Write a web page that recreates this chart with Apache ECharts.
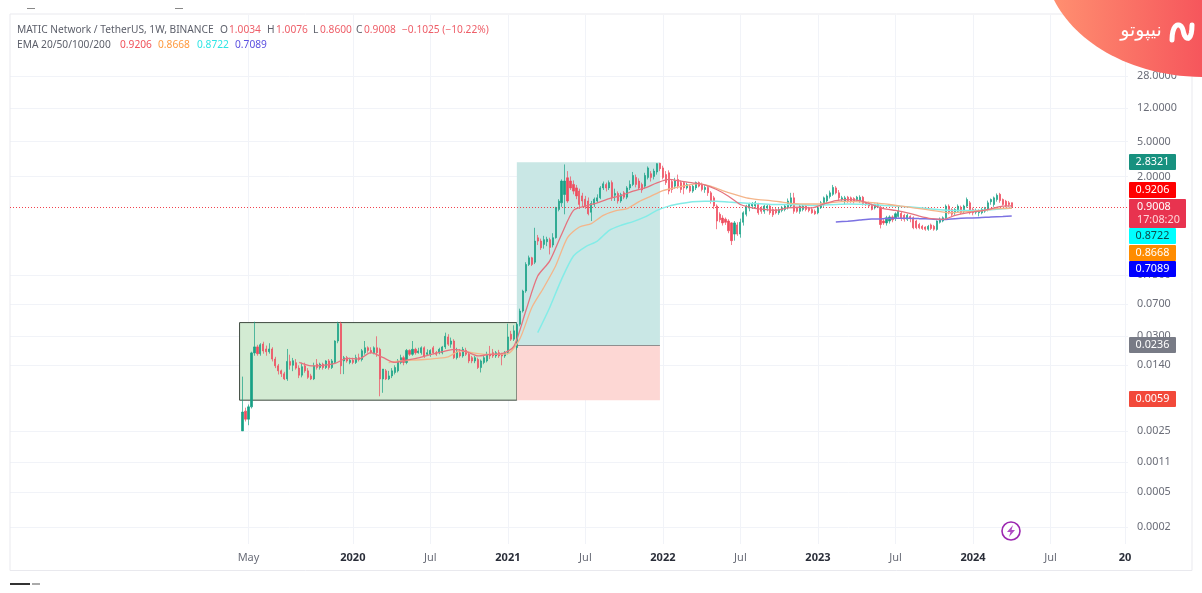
<!DOCTYPE html>
<html><head><meta charset="utf-8">
<style>html,body{margin:0;padding:0;background:#fff}#c{width:1202px;height:593px}</style>
<script src="https://cdn.jsdelivr.net/npm/echarts@6/dist/echarts.min.js"></script>
</head><body><div id="c"></div>
<script>
// candles are [open, close, low, high]
const candlesLaunch=[[.0025,.0041,.0025,.0104],[.0042,.0034,.0032,.0046],[.0034,.0047,.0029,.0050],[.0047,.0194,.0045,.0200],[.0194,.0227,.0180,.0440],[.0227,.0190,.0180,.0240],[.0190,.0240,.0180,.0250],[.0245,.0204,.0190,.0260],[.0215,.0200,.0180,.0235],[.0200,.0215,.0190,.0250],[.0215,.0165,.0155,.0225],[.0165,.0138,.0130,.0175],[.0138,.0121,.0110,.0145],[.0121,.0112,.0103,.0125],[.0112,.0098,.0095,.0118],[.0098,.0155,.0093,.0215],[.0155,.0140,.0125,.0185],[.0140,.0158,.0120,.0170],[.0150,.0130,.0125,.0165],[.0130,.0108,.0100,.0140],[.0108,.0135,.0102,.0150],[.0138,.0121,.0115,.0150],[.0121,.0102,.0098,.0130],[.0106,.0098,.0095,.0112],[.0098,.0138,.0095,.0150],[.0144,.0132,.0125,.0165],[.0132,.0144,.0125,.0150],[.0144,.0132,.0125,.0150],[.0132,.0157,.0127,.0160],[.0157,.0132,.0125,.0165],[.0132,.0157,.0127,.0165],[.0151,.0265,.0145,.0270],[.0265,.0418,.0250,.0440],[.0418,.0138,.0111,.0440]];
const candlesRange=[[.0157,.0171,.0111,.0179],[.0171,.0157,.0150,.0179],[.0151,.0160,.0144,.0171],[.0160,.0151,.0144,.0171],[.0151,.0171,.0145,.0185],[.0171,.0163,.0155,.0190],[.0163,.0205,.0155,.0215],[.0195,.0222,.0185,.0265],[.0222,.0207,.0195,.0230],[.0207,.0195,.0190,.0225],[.0195,.0222,.0187,.0230],[.0222,.0195,.0175,.0300],[.0213,.0098,.0062,.0222],[.0098,.0127,.0068,.0127],[.0121,.0098,.0095,.0127],[.0098,.0106,.0095,.0121],[.0106,.0121,.0100,.0130],[.0116,.0132,.0110,.0140],[.0121,.0157,.0116,.0165],[.0151,.0171,.0144,.0185],[.0171,.0151,.0140,.0180],[.0151,.0207,.0144,.0215],[.0207,.0187,.0179,.0213],[.0187,.0213,.0180,.0265],[.0213,.0195,.0185,.0222],[.0195,.0204,.0190,.0222],[.0195,.0222,.0185,.0230],[.0222,.0179,.0170,.0230],[.0187,.0195,.0179,.0213],[.0187,.0207,.0175,.0213],[.0222,.0195,.0187,.0233],[.0195,.0187,.0179,.0204],[.0195,.0213,.0187,.0222],[.0195,.0227,.0187,.0233],[.0227,.0300,.0215,.0330],[.0295,.0244,.0233,.0317],[.0244,.0265,.0222,.0290],[.0265,.0171,.0165,.0278],[.0171,.0204,.0163,.0222],[.0195,.0179,.0171,.0215],[.0179,.0213,.0171,.0227],[.0207,.0187,.0179,.0222],[.0187,.0157,.0148,.0195],[.0171,.0157,.0148,.0179],[.0157,.0171,.0148,.0179],[.0163,.0132,.0127,.0171],[.0132,.0157,.0116,.0163],[.0151,.0171,.0144,.0179],[.0157,.0187,.0151,.0200],[.0187,.0179,.0165,.0233],[.0195,.0179,.0170,.0215],[.0179,.0195,.0170,.0204],[.0195,.0179,.0170,.0210],[.0187,.0179,.0140,.0195],[.0179,.0195,.0170,.0204],[.0195,.0295,.0187,.0418],[.0317,.0278,.0265,.0346],[.0278,.0346,.0265,.0400]];
const candlesBull=[[.0223,.0411,.0210,.0430],[.0411,.0583,.0390,.0620],[.0583,.0985,.0560,.1020],[.0985,.1982,.0940,.2100],[.1982,.2361,.1900,.2500],[.2361,.1982,.1900,.2420],[.2100,.366,.2000,.519],[.399,.366,.33,.43],[.366,.307,.29,.39],[.335,.38,.30,.42],[.36,.385,.32,.41],[.38,.31,.2577,.40],[.33,.40,.31,.45],[.40,.877,.39,.90],[.84,1.045,.80,1.10],[1.0,1.77,.90,1.85],[1.245,1.77,.74,2.74],[1.93,1.05,1.0,2.30],[1.77,1.48,1.40,2.0],[1.62,1.36,1.25,1.8],[1.48,1.20,1.10,1.6],[1.36,.96,.85,1.45],[1.20,1.05,.90,1.3],[1.10,.90,.85,1.2],[1.05,.75,.72,1.15],[.78,.98,.62,1.05],[.96,1.10,.90,1.15],[1.05,1.14,1.0,1.25],[1.14,1.48,1.10,1.55],[1.48,1.65,1.40,1.75],[1.62,1.48,1.35,1.70],[1.48,1.70,1.40,1.80],[1.70,1.14,1.05,1.80],[1.22,1.28,1.05,1.45],[1.28,1.05,.98,1.35],[1.05,1.24,1.0,1.30],[1.30,1.16,1.10,1.36],[1.16,1.48,1.10,1.55],[1.48,1.62,1.40,1.80],[1.62,2.05,1.55,2.25],[1.95,1.62,1.50,2.10],[1.77,1.48,1.40,1.90],[1.62,1.40,1.30,1.70],[1.55,2.05,1.45,2.20],[1.95,2.50,1.85,2.60],[2.15,1.95,1.75,2.30],[2.0,2.30,1.85,2.45],[2.25,2.80,2.1,2.83],[2.83,2.45,2.3,2.85],[2.5,1.95,1.85,2.65]];
const candlesBear=[[2.1,1.7,1.6,2.3],[2.2,1.36,1.25,2.35],[1.75,1.42,1.30,1.85],[1.55,1.77,1.45,1.93],[1.85,1.55,1.45,2.1],[1.7,1.42,1.3,1.8],[1.7,1.48,1.25,1.75],[1.48,1.62,1.42,1.7],[1.55,1.36,1.3,1.62],[1.36,1.55,1.3,1.6],[1.48,1.7,1.4,1.75],[1.7,1.55,1.5,1.75],[1.62,1.42,1.35,1.7],[1.42,1.5,1.3,1.6],[1.5,1.3,1.2,1.55],[1.3,1.05,.98,1.36],[1.14,.92,.85,1.2],[.92,.62,.50,.96],[.74,.64,.6,.78],[.67,.59,.55,.72],[.65,.6,.56,.68],[.62,.48,.45,.65],[.59,.37,.33,.6],[.44,.59,.37,.62],[.56,.44,.42,.60],[.44,.6,.40,.66],[.6,.77,.55,.8],[.74,.92,.7,.95],[.87,.96,.8,1.0],[.92,.98,.85,1.02],[.92,1.0,.85,1.05],[.96,.77,.73,1.0],[.88,.8,.75,.92],[.8,.92,.75,.95],[.87,.92,.8,.96],[.92,.77,.73,.96],[.84,.73,.69,.87],[.84,.77,.74,.88],[.77,.84,.73,.88],[.82,.88,.78,.92],[.84,.92,.8,.96],[.88,1.05,.84,1.12],[.92,1.14,.88,1.3],[1.14,.8,.75,1.3],[.87,.8,.77,.9],[.8,.92,.75,.95],[.84,.92,.8,.96],[.92,.84,.8,.96],[.88,.82,.78,.9],[.84,.77,.75,.88],[.8,.75,.73,.84],[.77,.88,.74,.92],[.88,1.0,.85,1.05],[.96,1.14,.9,1.18],[1.05,1.2,1.0,1.25],[1.18,1.3,1.12,1.38],[1.25,1.5,1.2,1.6],[1.48,1.3,1.25,1.55],[1.3,1.14,1.05,1.4]];
const candlesLate=[[1.09,1.14,1.05,1.2],[1.045,1.14,.957,1.2],[1.16,1.06,1.0,1.2],[1.14,1.045,1.0,1.18],[1.12,1.03,.98,1.16],[1.09,1.16,1.03,1.2],[1.06,1.16,1.0,1.22],[1.16,.98,.93,1.2],[1.0,.957,.92,1.03],[1.0,.917,.88,1.03],[.957,.84,.82,.98],[.877,.957,.84,.98],[.917,.957,.87,1.0],[.89,.566,.51,.92],[.62,.59,.56,.65],[.59,.675,.55,.71],[.62,.69,.58,.72],[.69,.64,.6,.72],[.66,.75,.62,.78],[.70,.80,.68,.92],[.76,.66,.62,.79],[.72,.65,.61,.75],[.65,.72,.62,.75],[.70,.66,.6,.72],[.675,.52,.5,.70],[.62,.52,.5,.64],[.566,.52,.5,.59],[.54,.51,.49,.56],[.53,.50,.48,.54],[.50,.54,.48,.56],[.56,.51,.49,.58],[.54,.50,.48,.56],[.497,.62,.48,.63],[.6,.65,.58,.68],[.62,.675,.6,.7],[.675,.917,.65,.957],[.917,.77,.74,.96],[.84,.74,.7,.87],[.77,.84,.73,.87],[.80,.917,.77,.96],[.89,.77,.74,.93],[.80,.917,.76,.95],[.917,1.09,.88,1.15],[1.0,.77,.74,1.05],[.84,.77,.72,.88],[.78,.80,.74,.86],[.77,.80,.70,.84],[.77,.84,.74,.88],[.804,.86,.77,.9],[.84,1.0,.8,1.06],[1.03,1.09,.95,1.12],[.957,1.14,.9,1.18],[1.09,1.22,1.03,1.28],[1.25,1.06,1.0,1.3],[1.09,.957,.93,1.12],[1.045,.92,.89,1.08],[1.0,.957,.9,1.05],[1.0034,.9008,.86,1.0076]];

// EMA readings, one every four weeks; last entry is the latest week
const ema20Readings=[.0151,.0138,.0140,.0147,.0168,.0165,.0195,.0172,.0151,.0160,.0170,.0185,.0200,.0213,.0200,.0179,.0187,.0190,.0230,.0583,.146,.2163,.436,.82,.917,1.0,1.12,1.21,1.36,1.48,1.69,1.85,1.77,1.69,1.6,1.42,1.19,.957,.877,.84,.82,.877,.89,.877,.97,1.06,1.09,1.06,.957,.86,.82,.77,.705,.66,.646,.72,.77,.804,.855,.917];
const ema50Readings=[.0150,.0157,.0160,.0163,.0168,.0175,.0205,.0195,.0187,.0187,.0190,.0280,.0636,.1075,.19,.40,.53,.58,.72,.81,.86,1.03,1.19,1.38,1.48,1.58,1.66,1.55,1.38,1.245,1.14,1.09,1.06,1.02,.98,.97,.97,1.0,1.03,1.03,1.02,.99,.957,.917,.877,.84,.804,.77,.785,.80,.82,.86];
const ema100Readings=[.0330,.0636,.134,.247,.315,.366,.485,.555,.61,.69,.82,.917,.98,1.03,1.045,1.045,1.02,1.0,.98,.97,.957,.957,.95,.935,.945,.957,.97,.965,.957,.935,.92,.90,.88,.85,.83,.82,.82,.82,.835,.855];
const ema200Readings=[.605,.618,.635,.652,.66,.665,.665,.66,.652,.646,.66,.67,.675,.69,.70];
const EMA_LATEST={e20:.9206,e50:.8668,e100:.8722,e200:.7089};

const axisStart='2017-10-23', axisWeeks=376, firstCandleWeek='2019-04-22';
const tickDates=['2019-05-06','2020-01-06','2020-07-06','2021-01-04','2021-07-05','2022-01-03','2022-07-04','2023-01-02','2023-07-03','2024-01-01','2024-07-01','2024-12-23'];
const tickLabels=['May','2020','Jul','2021','Jul','2022','Jul','2023','Jul','2024','Jul','20'];
const priceTicks=[28,12,5,2,0.15,0.07,0.03,0.014,0.0025,0.0011,0.0005,0.0002];
const riskReward={boxHigh:.043,boxLow:.0056,target:2.9,entry:.0236,stop:.0056,
  boxFrom:'2019-04-15',split:'2021-01-25',tradeEnd:'2021-12-27'};
const lastPrice=.9008;

function wk(s,i){const d=new Date(s+'T00:00:00Z');d.setUTCDate(d.getUTCDate()+i*7);return d.toISOString().slice(0,10);}
const categories=[];for(let i=0;i<axisWeeks;i++)categories.push(wk(axisStart,i));
const firstIdx=categories.indexOf(firstCandleWeek);
const allCandles=[].concat(candlesLaunch,candlesRange,candlesBull,candlesBear,candlesLate);
const candleData=categories.map((c,i)=>{const v=allCandles[i-firstIdx];return v||'-';});
const lastIdx=firstIdx+allCandles.length-1;
function emaSeries(weekNo,vals,latest){
  const a=categories.map(()=>null);
  vals.forEach((v,k)=>{a[firstIdx+weekNo-1+k*4]=v;});
  a[lastIdx]=latest;return a;
}
const ema=(name,data,color,w)=>({name,type:'line',data,connectNulls:true,smooth:0.25,showSymbol:false,symbol:'none',
  lineStyle:{color,width:w},z:5,silent:true});

const FONT='"Noto Sans","Open Sans",sans-serif';
const GREY='#5d606b';
const txt=(x,y,text,fill,extra)=>({type:'text',x,y,z:50,style:Object.assign({text,fill,font:'10.2px '+FONT,textVerticalAlign:'middle'},extra||{})});
function badge(y,text,bg,fill){return [
  {type:'rect',z:60,shape:{x:1129,y:y-8,width:47,height:16,r:1},style:{fill:bg}},
  {type:'text',z:61,x:1152.5,y,style:{text,fill,font:'10.8px '+FONT,textAlign:'center',textVerticalAlign:'middle'}}];}
function bez(p0,p1,p2,p3,n){const r=[];for(let k=0;k<=n;k++){const t=k/n,u=1-t;
  r.push([u*u*u*p0[0]+3*u*u*t*p1[0]+3*u*t*t*p2[0]+t*t*t*p3[0],u*u*u*p0[1]+3*u*u*t*p1[1]+3*u*t*t*p2[1]+t*t*t*p3[1]]);}return r;}

const graphics=[
 {type:'rect',z:1,silent:true,shape:{x:10,y:14,width:1182,height:556.5},style:{fill:'none',stroke:'#e9e9ee',lineWidth:1}},
 txt(17,30,'MATIC Network / TetherUS, 1W, BINANCE',GREY),
 txt(220,30,'O',GREY),txt(229,30,'1.0034','#ee5e68'),
 txt(267,30,'H',GREY),txt(276,30,'1.0076','#ee5e68'),
 txt(313,30,'L',GREY),txt(320,30,'0.8600','#ee5e68'),
 txt(356,30,'C',GREY),txt(364,30,'0.9008','#ee5e68'),
 txt(402,30,'\u22120.1025 (\u221210.22%)','#ee5e68'),
 txt(17,45,'EMA 20/50/100/200',GREY),
 txt(120,45,'0.9206','#f0525a'),txt(158,45,'0.8668','#ff9a3e'),txt(197,45,'0.8722','#2fe5e5'),txt(235,45,'0.7089','#5b50e0'),
 // logo
 {type:'polygon',z:70,silent:true,shape:{points:bez([1054,0],[1073,38],[1125,76],[1202,77],30).concat([[1202,0]])},
  style:{fill:new echarts.graphic.LinearGradient(0,0,1,0,[{offset:0,color:'#ff8f70'},{offset:1,color:'#f6565c'}])}},
 {type:'polyline',z:71,silent:true,shape:{points:bez([1172,40],[1172,22],[1181,22],[1183,30],10).concat(bez([1183,30],[1185,42],[1192,42],[1192,25],10))},
  style:{fill:'none',stroke:'#fff',lineWidth:5,lineCap:'round',lineJoin:'round'}},
 {type:'text',z:71,x:1141,y:31,style:{text:'نیپوتو',fill:'#fff',font:'19px "DejaVu Sans"',textAlign:'center',textVerticalAlign:'middle'}},
 // lightning
 {type:'circle',z:20,silent:true,shape:{cx:1011,cy:531,r:9},style:{fill:'#fff',stroke:'#9c27b0',lineWidth:1.6}},
 {type:'polygon',z:21,silent:true,shape:{points:[[1013,525],[1007,532],[1010.5,532],[1009,537],[1015,530],[1011.5,530]]},style:{fill:'#b04cc4'}},
 // clipped text strips at the picture's edges
 {type:'rect',z:2,silent:true,shape:{x:10,y:583,width:20,height:2},style:{fill:'#333'}},
 {type:'rect',z:2,silent:true,shape:{x:32,y:583,width:8,height:2},style:{fill:'#aaa'}},
 {type:'rect',z:2,silent:true,shape:{x:27,y:8,width:8,height:1},style:{fill:'#888'}},
 {type:'rect',z:2,silent:true,shape:{x:175,y:8,width:8,height:1},style:{fill:'#888'}},
];
graphics.push(...badge(162,'2.8321','#17917f','#fff'),...badge(190,'0.9206','#ff0000','#fff'),
  ...badge(236,'0.8722','#00ffff','#0d4a4a'),...badge(253,'0.8668','#ff8c00','#fff'),...badge(269,'0.7089','#0000ff','#fff'),
  ...badge(345,'0.0236','#787b86','#fff'),...badge(399,'0.0059','#f2493a','#fff'));
graphics.push({type:'rect',z:60,shape:{x:1129,y:199,width:57,height:29,r:1},style:{fill:'#e8334f'}},
 {type:'text',z:61,x:1137,y:207,style:{text:'0.9008',fill:'#fff',font:'10.8px '+FONT,textVerticalAlign:'middle'}},
 {type:'text',z:61,x:1137,y:220,style:{text:'17:08:20',fill:'#ffd5da',font:'10.8px '+FONT,textVerticalAlign:'middle'}});

const chart=echarts.init(document.getElementById('c'),null,{renderer:'canvas'});
chart.setOption({
 animation:false,backgroundColor:'#fff',
 grid:{left:10,right:74,top:15,bottom:49},
 xAxis:{type:'category',data:categories,boundaryGap:false,
   axisLine:{show:false},axisTick:{show:false},
   splitLine:{show:true,interval:(i,v)=>tickDates.includes(v),lineStyle:{color:'#f1f3f8',width:1}},
   axisLabel:{interval:(i,v)=>tickDates.includes(v),margin:8,fontFamily:FONT,fontSize:11,
     formatter:v=>{const l=tickLabels[tickDates.indexOf(v)];return /^\d/.test(l)?'{b|'+l+'}':'{m|'+l+'}';},
     rich:{b:{fontWeight:'bold',color:'#2a2e39',fontSize:11,fontFamily:FONT},m:{color:'#6a6d78',fontSize:11,fontFamily:FONT}}}},
 yAxis:{type:'log',logBase:10,min:0.000128,max:139,position:'right',axisLine:{show:false},
   axisTick:{show:false,customValues:priceTicks},
   minorTick:{show:false},minorSplitLine:{show:false},
   splitLine:{show:true,lineStyle:{color:'#f1f3f8',width:1}},
   axisLabel:{customValues:priceTicks,margin:9,color:'#6a6d78',fontFamily:FONT,fontSize:10.8,
     formatter:v=>Number(v).toFixed(4)}},
 series:[
  {name:'MATICUSDT',type:'candlestick',data:candleData,barWidth:1.6,z:4,clip:true,
   itemStyle:{color:'#17a085',color0:'#ef4b5d',borderColor:'#17a085',borderColor0:'#ef4b5d',borderWidth:0.7},
   markArea:{silent:true,z:1,data:[
     [{xAxis:riskReward.boxFrom,yAxis:riskReward.boxHigh,itemStyle:{color:'#d3ebd3',borderColor:'#3f4a40',borderWidth:1}},{xAxis:riskReward.split,yAxis:riskReward.boxLow}],
     [{xAxis:riskReward.split,yAxis:riskReward.target,itemStyle:{color:'#c9e7e5'}},{xAxis:riskReward.tradeEnd,yAxis:riskReward.entry}],
     [{xAxis:riskReward.split,yAxis:riskReward.entry,itemStyle:{color:'#fdd7d4',borderWidth:0}},{xAxis:riskReward.tradeEnd,yAxis:riskReward.stop}]
   ]},
   markLine:{silent:true,symbol:'none',label:{show:false},z:3,data:[
     {yAxis:lastPrice,lineStyle:{color:'#f2414c',type:[1,2],width:1,opacity:1}},
     [{xAxis:riskReward.split,yAxis:riskReward.entry,lineStyle:{color:'#8f8f8f',type:'solid',width:1,opacity:1}},{xAxis:riskReward.tradeEnd,yAxis:riskReward.entry}]]}},
  ema('EMA 200',emaSeries(200,ema200Readings,EMA_LATEST.e200),'#7c72e2',1.5),
  ema('EMA 100',emaSeries(100,ema100Readings,EMA_LATEST.e100),'#84ece7',1.5),
  ema('EMA 50',emaSeries(50,ema50Readings,EMA_LATEST.e50),'#f4b58a',1.3),
  ema('EMA 20',emaSeries(20,ema20Readings,EMA_LATEST.e20),'#e5737f',1.3)
 ],
 graphic:{elements:graphics}
});
</script></body></html>
